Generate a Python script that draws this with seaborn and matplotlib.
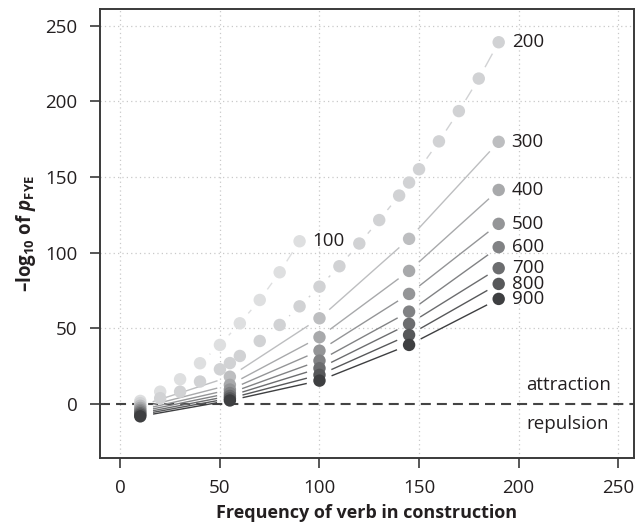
import numpy as np
import pandas as pd
import matplotlib
matplotlib.use("Agg")
import matplotlib.pyplot as plt
import seaborn as sns

# ── data ─────────────────────────────────────────────────────────────────────
series = [100, 200, 300, 400, 500, 600, 700, 800, 900]

x_100 = [10, 20, 30, 40, 50, 60, 70, 80, 90]
y_100 = [2.0, 8.1, 16.3, 26.9, 39.0, 53.3, 68.7, 87.0, 107.5]

x_200 = [10, 20, 30, 40, 50, 55, 60, 70, 80, 90, 100, 110, 120, 130, 140,
         145, 150, 160, 170, 180, 190]
y_200 = [0.5, 3.8, 8.1, 14.8, 22.9, 27.0, 31.7, 41.6, 52.2, 64.5, 77.5, 91.0,
         106.0, 121.5, 137.7, 146.3, 155.1, 173.5, 193.5, 215.0, 239.0]

x_common = [10, 55, 100, 145, 190]
y_300 = [-1.2, 18.0, 56.6, 109.1, 173.2]
y_400 = [-2.6, 12.6, 44.1, 87.9, 141.4]
y_500 = [-3.9, 9.5, 35.2, 72.7, 119.0]
y_600 = [-5.0, 7.2, 28.6, 61.0, 103.6]
y_700 = [-6.1, 5.3, 23.6, 52.9, 89.7]
y_800 = [-7.1, 3.7, 19.2, 45.6, 79.3]
y_900 = [-8.2, 2.3, 15.4, 39.0, 69.4]

greys = ["#dedfe0", "#d1d2d4", "#bdbec0", "#a8a9ab", "#949597",
         "#818284", "#6c6d6f", "#57585a", "#3e3f41"]

xs = {100: x_100, 200: x_200}
ys = {100: y_100, 200: y_200, 300: y_300, 400: y_400, 500: y_500,
      600: y_600, 700: y_700, 800: y_800, 900: y_900}
for s in series[2:]:
    xs[s] = x_common

df = pd.concat([pd.DataFrame({"freq": xs[s], "logp": ys[s], "series": s})
                for s in series], ignore_index=True)
palette = dict(zip(series, greys))

# ── style ────────────────────────────────────────────────────────────────────
sns.set_style("ticks")
plt.rcParams["font.family"] = ["Open Sans", "DejaVu Sans"]
plt.rcParams.update({
    "mathtext.fontset": "custom",
    "mathtext.rm": "Open Sans",
    "mathtext.it": "Open Sans:italic",
    "mathtext.bf": "Open Sans:bold",
    "mathtext.bfit": "Open Sans:italic:bold",
})
INK = "#231f20"
FS = 13.5

fig = plt.figure(figsize=(6.36, 5.27), dpi=100)
ax = fig.add_axes([0.157, 0.131, 0.84, 0.852])
ax.set_xlim(-10.3, 258)
ax.set_ylim(-35.7, 261)

# grid + zero line
for v in range(0, 251, 50):
    ax.axvline(v, color="#c9c9c9", lw=0.9, ls=(0, (1, 2.5)), zorder=0)
    if v > 0:
        ax.axhline(v, color="#c9c9c9", lw=0.9, ls=(0, (1, 2.5)), zorder=0)
ax.axhline(0, color="#444444", lw=1.5, ls=(0, (4.8, 2.9)), zorder=1)


def gapped_line(ax, x, y, color, gap=13, **kw):
    # R-style type="b": segments between points, with a gap round each point
    pts = ax.transData.transform(np.column_stack([x, y]))
    inv = ax.transData.inverted()
    for p0, p1 in zip(pts[:-1], pts[1:]):
        d = p1 - p0
        L = np.hypot(*d)
        if L <= 2 * gap:
            continue
        u = d / L
        a, b = inv.transform([p0 + u * gap, p1 - u * gap])
        ax.plot([a[0], b[0]], [a[1], b[1]], color=color, **kw)


for s in series:
    gapped_line(ax, xs[s], ys[s], palette[s], lw=1.0, zorder=2,
                solid_capstyle="butt")

sns.scatterplot(data=df, x="freq", y="logp", hue="series", palette=palette,
                s=80, linewidth=0, legend=False, ax=ax, zorder=3)

for s in series:
    ax.text(xs[s][-1] + 6.5, ys[s][-1], str(s), fontsize=FS, color=INK,
            va="center", ha="left", zorder=4)

ax.text(204, 12.5, "attraction", fontsize=FS, color=INK, va="center")
ax.text(204, -13, "repulsion", fontsize=FS, color=INK, va="center")

ax.set_xticks(range(0, 251, 50))
ax.set_yticks(range(0, 251, 50))
ax.tick_params(length=7, width=1.2, color="#3a3a3a", labelsize=FS,
               labelcolor=INK)
ax.tick_params(axis="x", pad=8)
ax.tick_params(axis="y", pad=9)
for sp in ax.spines.values():
    sp.set_visible(True)
    sp.set_color("#3a3a3a")
    sp.set_linewidth(1.4)

ax.set_xlabel("Frequency of verb in construction", fontsize=13,
              fontweight="bold", color=INK, labelpad=5)
ax.set_ylabel(r"–log$_{\mathbf{10}}$ of $\boldsymbol{p}_{\mathbf{FYE}}$",
              fontsize=FS, fontweight="bold", color=INK, labelpad=5)

fig.savefig("out.png", dpi=100)
